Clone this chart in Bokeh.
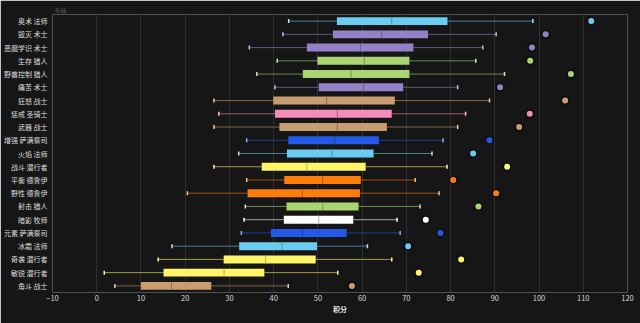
from bokeh.plotting import figure
from bokeh.models import ColumnDataSource, FactorRange, SingleIntervalTicker
from bokeh.embed import file_html
from bokeh.resources import INLINE
import math

specs = ["奥术 法师", "毁灭 术士", "恶魔学识 术士", "生存 猎人", "野兽控制 猎人", "痛苦 术士",
         "狂怒 战士", "惩戒 圣骑士", "武器 战士", "增强 萨满祭司", "火焰 法师", "战斗 潜行者",
         "平衡 德鲁伊", "野性 德鲁伊", "射击 猎人", "暗影 牧师", "元素 萨满祭司", "冰霜 法师",
         "奇袭 潜行者", "敏锐 潜行者", "角斗 战士"]
classes = ["mage", "warlock", "warlock", "hunter", "hunter", "warlock",
           "warrior", "paladin", "warrior", "shaman", "mage", "rogue",
           "druid", "druid", "hunter", "priest", "shaman", "mage",
           "rogue", "rogue", "warrior"]
low = [43.4, 42.1, 34.5, 40.8, 36.2, 40.3, 26.5, 27.6, 26.5, 33.9, 32.1, 26.5,
       33.9, 20.5, 33.6, 33.3, 32.7, 17.0, 13.9, 1.7, 4.1]
q1 = [54.3, 53.4, 47.5, 49.9, 46.6, 50.2, 39.9, 40.3, 41.3, 43.3, 43.0, 37.3,
      42.4, 34.1, 42.9, 42.3, 39.4, 32.2, 28.7, 15.1, 10.0]
median = [66.7, 64.4, 59.6, 60.5, 57.5, 60.3, 52.0, 54.4, 54.4, 53.8, 53.2, 47.5,
          51.1, 46.5, 51.1, 50.2, 46.5, 41.9, 38.2, 28.8, 16.9]
q3 = [79.3, 74.9, 71.6, 70.7, 70.7, 69.3, 67.4, 66.7, 65.6, 63.8, 62.6, 60.8,
      59.7, 59.5, 59.2, 58.0, 56.5, 49.8, 49.5, 37.9, 25.9]
high = [98.6, 90.3, 87.3, 85.7, 92.2, 81.6, 88.8, 83.4, 81.6, 78.3, 75.8, 79.2,
        72.0, 77.4, 73.1, 67.9, 68.6, 61.2, 66.7, 54.5, 43.3]
outlier = [111.8, 101.5, 98.4, 98.0, 107.2, 91.2, 105.9, 97.9, 95.5, 88.8, 85.1, 92.8,
           80.6, 90.3, 86.3, 74.4, 77.7, 70.4, 82.4, 72.8, 57.7]
class_colors = {"mage": "#69CCF0", "warlock": "#9482C9", "hunter": "#ABD473",
                "warrior": "#C79C6E", "paladin": "#F58CBA", "shaman": "#2459E8",
                "rogue": "#FFF569", "druid": "#FF7D0A", "priest": "#FFFFFF"}

BG = "#161616"
FONT = "Noto Sans CJK SC"

def mix(c1, c2, t):
    a = [int(c1[i:i + 2], 16) for i in (1, 3, 5)]
    b = [int(c2[i:i + 2], 16) for i in (1, 3, 5)]
    return "#%02x%02x%02x" % tuple(round(x * (1 - t) + y * t) for x, y in zip(a, b))

colors = [class_colors[c] for c in classes]
src = ColumnDataSource(dict(
    spec=specs, low=low, q1=q1, med=median, q3=q3, high=high, out=outlier,
    color=colors,
    wcol=[mix(c, BG, 0.4) for c in colors],
    capcol=[mix(c, "#ffffff", 0.5) for c in colors],
    medcol=[mix(c, "#000000", 0.28) if c != "#FFFFFF" else "#b0b0b0" for c in colors],
))

p = figure(width=640, height=323, output_backend="svg", toolbar_location=None,
           y_range=FactorRange(factors=specs[::-1]), x_range=(-10, 120),
           min_border_left=52, min_border_right=13, min_border_top=14, min_border_bottom=31)
p.background_fill_color = BG
p.border_fill_color = BG
p.outline_line_color = None

p.segment(x0="low", x1="q1", y0="spec", y1="spec", source=src, line_color="wcol", line_width=1)
p.segment(x0="q3", x1="high", y0="spec", y1="spec", source=src, line_color="wcol", line_width=1)
p.hbar(y="spec", left="q1", right="q3", height=0.6, source=src, fill_color="color", line_color=None)
p.scatter(x="med", y="spec", marker="dash", angle=math.pi / 2, size=8, source=src,
          line_color="medcol", line_width=1)
p.scatter(x="low", y="spec", marker="dash", angle=math.pi / 2, size=4, source=src,
          line_color="capcol", line_width=1.5)
p.scatter(x="high", y="spec", marker="dash", angle=math.pi / 2, size=4, source=src,
          line_color="capcol", line_width=1.5)
p.scatter(x="out", y="spec", size=10, source=src, fill_color="#000000", fill_alpha=0.35, line_color=None)
p.scatter(x="out", y="spec", size=6, source=src, fill_color="color", line_color=None)

p.xaxis.ticker = SingleIntervalTicker(interval=10)
p.xgrid.grid_line_color = "#2e2e2e"
p.ygrid.grid_line_color = None
for ax in (p.xaxis[0], p.yaxis[0]):
    ax.axis_line_color = None
    ax.major_tick_line_color = None
    ax.minor_tick_line_color = None
    ax.major_tick_out = 0
    ax.major_tick_in = 0
    ax.minor_tick_out = 0
    ax.minor_tick_in = 0
    ax.major_label_text_font = FONT
p.xaxis.major_label_text_color = "#d8d8d8"
p.xaxis.major_label_text_font_size = "7.5px"
p.xaxis.major_label_standoff = 2
p.xaxis.axis_label = "积分"
p.xaxis.axis_label_text_font = FONT
p.xaxis.axis_label_text_font_size = "7px"
p.xaxis.axis_label_text_font_style = "bold"
p.xaxis.axis_label_text_color = "#e8e8e8"
p.xaxis.axis_label_standoff = 0
p.yaxis.major_label_text_color = "#dcdcdc"
p.yaxis.major_label_text_font_size = "7px"
p.yaxis.major_label_standoff = 5

p.title.text = "专精"
p.title.text_font = FONT
p.title.text_font_size = "6px"
p.title.text_font_style = "normal"
p.title.text_color = "#555555"
p.title.align = "left"
p.title.offset = 2
p.title.standoff = 0

open("out.html", "w").write(file_html(p, INLINE))
